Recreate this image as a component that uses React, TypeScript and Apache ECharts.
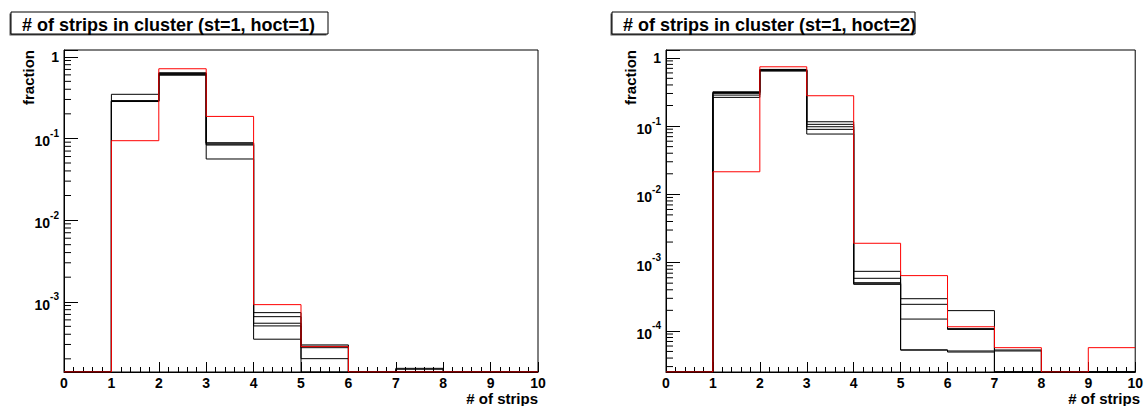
import React, { useEffect, useRef } from "react";
import * as echarts from "echarts";

// Histogram binning: 10 unit-wide bins from 0 to 10 strips
const binEdges = [0, 1, 2, 3, 4, 5, 6, 7, 8, 9, 10];

// st=1, hoct=1 : fraction of clusters per strip multiplicity
const hoct1Reference = [0, 0.0938, 0.713, 0.186, 9.22e-4, 2.82e-4, 0, 0, 0, 0];
const hoct1RunA = [0, 0.347, 0.597, 0.056, 3.48e-4, 2.01e-4, 0, 0, 0, 0];
const hoct1RunB = [0, 0.29, 0.6, 0.083, 5.06e-4, 2.96e-4, 0, 1.53e-4, 0, 0];
const hoct1RunC = [0, 0.287, 0.61, 0.085, 5.46e-4, 2.74e-4, 0, 0, 0, 0];
const hoct1RunD = [0, 0.285, 0.625, 0.088, 6.57e-4, 2.85e-4, 0, 1.49e-4, 0, 0];
const hoct1RunE = [0, 0.283, 0.637, 0.088, 7.36e-4, 0, 0, 0, 0, 0];

// st=1, hoct=2
const hoct2Reference = [0, 0.0214, 0.738, 0.278, 1.92e-3, 6.45e-4, 1.15e-4, 5.68e-5, 0, 5.68e-5];
const hoct2RunA = [0, 0.318, 0.638, 0.0764, 7.45e-4, 2.96e-4, 1.98e-4, 0, 0, 0];
const hoct2RunB = [0, 0.301, 0.655, 0.0895, 5.89e-4, 2.45e-4, 1.05e-4, 5.25e-5, 0, 0];
const hoct2RunC = [0, 0.284, 0.665, 0.0977, 5.08e-4, 1.49e-4, 1.08e-4, 5.08e-5, 0, 0];
const hoct2RunD = [0, 0.263, 0.676, 0.106, 4.81e-4, 5.25e-5, 5.08e-5, 0, 0, 0];
const hoct2RunE = [0, 0.31, 0.66, 0.1156, 4.9e-4, 5.25e-5, 4.9e-5, 0, 0, 0];

// Log-axis ranges of the two pads
const yRange1 = [1.38e-4, 1.21];
const yRange2 = [2.5e-5, 1.3];

// Minor tick mantissas on a log axis
const minorMantissas = [2, 3, 4, 5, 6, 7, 8, 9];

const FONT = '"Liberation Sans", Arial, Helvetica, sans-serif';

const panels = [
  {
    title: "# of strips in cluster (st=1, hoct=1)",
    reference: hoct1Reference,
    runs: [hoct1RunA, hoct1RunB, hoct1RunC, hoct1RunD, hoct1RunE],
    yRange: yRange1,
    left: 64,
    boxX: 11,
    boxW: 317,
  },
  {
    title: "# of strips in cluster (st=1, hoct=2)",
    reference: hoct2Reference,
    runs: [hoct2RunA, hoct2RunB, hoct2RunC, hoct2RunD, hoct2RunE],
    yRange: yRange2,
    left: 666,
    boxX: 612,
    boxW: 303,
  },
];

const GRID_TOP = 50;
const GRID_W = 474;
const GRID_H = 322;

// Outline of a histogram: flat top per bin, empty bins sit on the frame floor
function stepPoints(values: number[], floor: number): [number, number][] {
  const pts: [number, number][] = [];
  values.forEach((v, i) => {
    const y = v > floor ? v : floor;
    pts.push([binEdges[i], y], [binEdges[i + 1], y]);
  });
  return pts;
}

function minorTickValues(range: number[]): number[] {
  const out: number[] = [];
  const lo = Math.floor(Math.log10(range[0]));
  const hi = Math.ceil(Math.log10(range[1]));
  for (let e = lo; e <= hi; e++) {
    minorMantissas.forEach((m) => {
      const v = m * Math.pow(10, e);
      if (v > range[0] && v < range[1]) out.push(v);
    });
  }
  return out;
}

function logLabel(v: number): string {
  const e = Math.log10(v);
  const r = Math.round(e);
  if (Math.abs(e - r) > 1e-6) return "";
  if (r === 0) return "{u|1}";
  return `{b|10}{s|${r}}`;
}

function buildOption() {
  const grid: any[] = [];
  const xAxis: any[] = [];
  const yAxis: any[] = [];
  const series: any[] = [];
  const graphic: any[] = [];

  panels.forEach((p, k) => {
    grid.push({
      left: p.left,
      top: GRID_TOP,
      width: GRID_W,
      height: GRID_H,
      show: true,
      borderColor: "#000",
      borderWidth: 1,
      backgroundColor: "transparent",
    });
    xAxis.push({
      type: "value",
      gridIndex: k,
      min: 0,
      max: 10,
      interval: 1,
      axisLine: { show: true, onZero: false, lineStyle: { color: "#000", width: 1 } },
      axisTick: { show: true, inside: true, length: 10, lineStyle: { color: "#000" } },
      minorTick: { show: true, splitNumber: 5, length: 5, lineStyle: { color: "#000" } },
      axisLabel: {
        show: true,
        margin: 4,
        color: "#000",
        fontSize: 14,
        fontWeight: "bold",
        fontFamily: FONT,
        showMinLabel: true,
        showMaxLabel: true,
      },
      splitLine: { show: false },
      minorSplitLine: { show: false },
    });
    yAxis.push({
      type: "log",
      logBase: 10,
      gridIndex: k,
      min: p.yRange[0],
      max: p.yRange[1],
      axisLine: { show: true, lineStyle: { color: "#000", width: 1 } },
      axisTick: { show: true, inside: true, length: 14, lineStyle: { color: "#000" } },
      axisLabel: {
        show: true,
        margin: 5,
        formatter: logLabel,
        rich: {
          u: { fontSize: 14, fontWeight: "bold", fontFamily: FONT, color: "#000" },
          b: {
            fontSize: 14,
            fontWeight: "bold",
            fontFamily: FONT,
            color: "#000",
            lineHeight: 20,
            verticalAlign: "bottom",
          },
          s: {
            fontSize: 10,
            fontWeight: "bold",
            fontFamily: FONT,
            color: "#000",
            lineHeight: 16,
            verticalAlign: "top",
          },
        },
      },
      splitLine: { show: false },
    });

    p.runs.forEach((run) => {
      series.push({
        type: "line",
        xAxisIndex: k,
        yAxisIndex: k,
        data: stepPoints(run, p.yRange[0]),
        symbol: "none",
        showSymbol: false,
        silent: true,
        lineStyle: { color: "#000", width: 1 },
        z: 3,
      });
    });
    series.push({
      type: "line",
      xAxisIndex: k,
      yAxisIndex: k,
      data: stepPoints(p.reference, p.yRange[0]),
      symbol: "none",
      showSymbol: false,
      silent: true,
      lineStyle: { color: "#ff0000", width: 1 },
      z: 4,
    });
    // Minor log ticks (2..9 per decade) along the left edge of the frame
    series.push({
      type: "custom",
      xAxisIndex: k,
      yAxisIndex: k,
      silent: true,
      z: 5,
      data: minorTickValues(p.yRange).map((v) => [0, v]),
      encode: { x: 0, y: 1 },
      renderItem: (_params: any, api: any) => {
        const pt = api.coord([0, api.value(1)]);
        return {
          type: "line",
          shape: { x1: pt[0], y1: pt[1], x2: pt[0] + 7, y2: pt[1] },
          style: { stroke: "#000", lineWidth: 1 },
        };
      },
    });

    // Title pave with its drop shadow
    graphic.push({
      type: "rect",
      shape: { x: p.boxX - 1.5, y: 13.5, width: p.boxW, height: 22 },
      style: { fill: "#555" },
      z: 10,
    });
    graphic.push({
      type: "rect",
      shape: { x: p.boxX, y: 12, width: p.boxW, height: 22 },
      style: { fill: "#fff", stroke: "#000", lineWidth: 1 },
      z: 11,
    });
    graphic.push({
      type: "text",
      x: p.boxX + 11,
      y: 24.5,
      z: 12,
      style: {
        text: p.title,
        fill: "#000",
        font: `bold 18px ${FONT}`,
        align: "left",
        textAlign: "left",
        verticalAlign: "middle",
        textVerticalAlign: "middle",
      },
    });
    // Y axis title, top-aligned with the frame
    graphic.push({
      type: "text",
      x: p.left - 36,
      y: GRID_TOP,
      rotation: Math.PI / 2,
      z: 12,
      style: {
        text: "fraction",
        fill: "#000",
        font: `bold 15px ${FONT}`,
        align: "right",
        textAlign: "right",
        verticalAlign: "middle",
        textVerticalAlign: "middle",
      },
    });
    // X axis title, right-aligned with the frame
    graphic.push({
      type: "text",
      x: p.left + GRID_W,
      y: 398,
      z: 12,
      style: {
        text: "# of strips",
        fill: "#000",
        font: `bold 15px ${FONT}`,
        align: "right",
        textAlign: "right",
        verticalAlign: "middle",
        textVerticalAlign: "middle",
      },
    });
  });

  return {
    animation: false,
    backgroundColor: "#fff",
    grid,
    xAxis,
    yAxis,
    series,
    graphic,
  };
}

export default function App() {
  const ref = useRef<HTMLDivElement>(null);
  useEffect(() => {
    if (!ref.current) return;
    const chart = echarts.init(ref.current, null, { renderer: "svg" });
    chart.setOption(buildOption() as any);
    return () => {
      chart.dispose();
    };
  }, []);
  return (
    <div
      ref={ref}
      style={{ position: "absolute", left: 0, top: 0, width: 1146, height: 406, background: "#fff" }}
    />
  );
}
